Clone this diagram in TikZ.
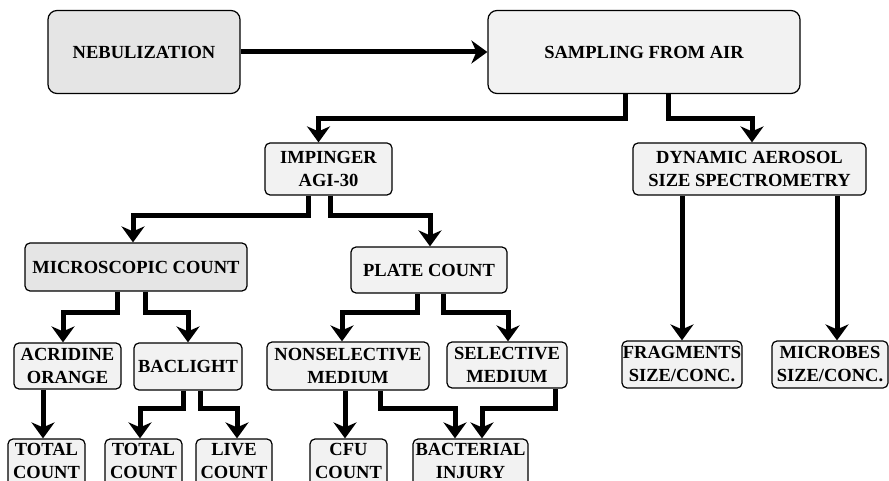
\documentclass[tikz,border=0pt]{standalone}
\usepackage{fontspec}
\setmainfont{Liberation Serif}
\usetikzlibrary{arrows.meta}

\begin{document}
\begin{tikzpicture}[x=1pt,y=-1pt,
  box/.style={draw,rounded corners=5pt,line width=1.2pt,fill=gray!10,align=center,inner sep=0pt,
    font=\fontsize{18.5}{23}\selectfont\bfseries},
  dark/.style={fill=gray!20},
  result/.style={box,minimum width=77pt,minimum height=52pt,text depth=8pt},
  link/.style={line width=5pt,-{Stealth[length=16pt,width=23pt,inset=5pt]}}]
\path[use as bounding box] (0,0) rectangle (889,481);
\clip (0,0) rectangle (889,481);

% top row
\node[box,dark,rounded corners=9pt,minimum width=192pt,minimum height=83pt] (nebu) at (144,52) {NEBULIZATION};
\node[box,rounded corners=9pt,minimum width=312pt,minimum height=83pt] (samp) at (644,52) {SAMPLING FROM AIR};

% samplers
\node[box,minimum width=127pt,minimum height=52pt] (imp) at (328.5,169) {IMPINGER\\AGI-30};
\node[box,minimum width=233pt,minimum height=52pt] (dyn) at (749.5,169) {DYNAMIC AEROSOL\\SIZE SPECTROMETRY};

% counting
\node[box,dark,minimum width=222pt,minimum height=48pt] (micro) at (136,267) {MICROSCOPIC COUNT};
\node[box,minimum width=156pt,minimum height=46pt] (plate) at (429,270) {PLATE COUNT};
\node[box,minimum width=120pt,minimum height=47pt] (frag) at (682,364.5) {FRAGMENTS\\SIZE/CONC.};
\node[box,minimum width=116pt,minimum height=47pt] (mcb) at (830,364.5) {MICROBES\\SIZE/CONC.};

\node[box,minimum width=107pt,minimum height=46pt] (acr) at (67.5,366) {ACRIDINE\\ORANGE};
\node[box,minimum width=108pt,minimum height=47pt] (bacl) at (188,366.5) {BACLIGHT};
\node[box,minimum width=162pt,minimum height=48pt] (nons) at (348,366) {NONSELECTIVE\\MEDIUM};
\node[box,minimum width=120pt,minimum height=46pt] (sel) at (507,365) {SELECTIVE\\MEDIUM};

% results
\node[result] (tot1) at (46.5,465) {TOTAL\\COUNT};
\node[result] (tot2) at (143.5,465) {TOTAL\\COUNT};
\node[result,minimum width=76pt] (live) at (234,465) {LIVE\\COUNT};
\node[result] (cfu) at (348.5,465) {CFU\\COUNT};
\node[result,minimum width=115pt] (binj) at (470.5,465) {BACTERIAL\\INJURY};

% connectors
\draw[link] (nebu) -- (samp);
\draw[link] ([xshift=-19pt]samp.south) -- ++(0,24) -| ([xshift=-10pt]imp.north);
\draw[link] ([xshift=24pt]samp.south) -- ++(0,24) -| ([xshift=2.5pt]dyn.north);

\draw[link] ([xshift=-20.5pt]imp.south) -- ++(0,20) -| ([xshift=-3pt]micro.north);
\draw[link] ([xshift=1.5pt]imp.south) -- ++(0,20) -| ([xshift=1pt]plate.north);
\draw[link] (frag.north |- dyn.south) -- (frag.north);
\draw[link] ([xshift=7pt]mcb.north |- dyn.south) -- ([xshift=7pt]mcb.north);

\draw[link] ([xshift=-19pt]micro.south) -- ++(0,21) -| ([xshift=-4.5pt]acr.north);
\draw[link] ([xshift=9pt]micro.south) -- ++(0,21) -| (bacl.north);
\draw[link] ([xshift=-12pt]plate.south) -- ++(0,19) -| ([xshift=-6pt]nons.north);
\draw[link] ([xshift=14pt]plate.south) -- ++(0,19) -| ([xshift=1pt]sel.north);

\draw[link] ([xshift=-3.5pt]tot1.north |- acr.south) -- ([xshift=-3.5pt]tot1.north);
\draw[link] ([xshift=-5pt]bacl.south) -- ++(0,18) -| ([xshift=-3.5pt]tot2.north);
\draw[link] ([xshift=12pt]bacl.south) -- ++(0,18) -| ([xshift=3pt]live.north);
\draw[link] ([xshift=-3.5pt]cfu.north |- nons.south) -- ([xshift=-3.5pt]cfu.north);
\draw[link] ([xshift=32pt]nons.south) -- ++(0,18) -| ([xshift=-15.5pt]binj.north);
\draw[link] ([xshift=48pt]sel.south) -- ++(0,20) -| ([xshift=11.5pt]binj.north);
\end{tikzpicture}
\end{document}
